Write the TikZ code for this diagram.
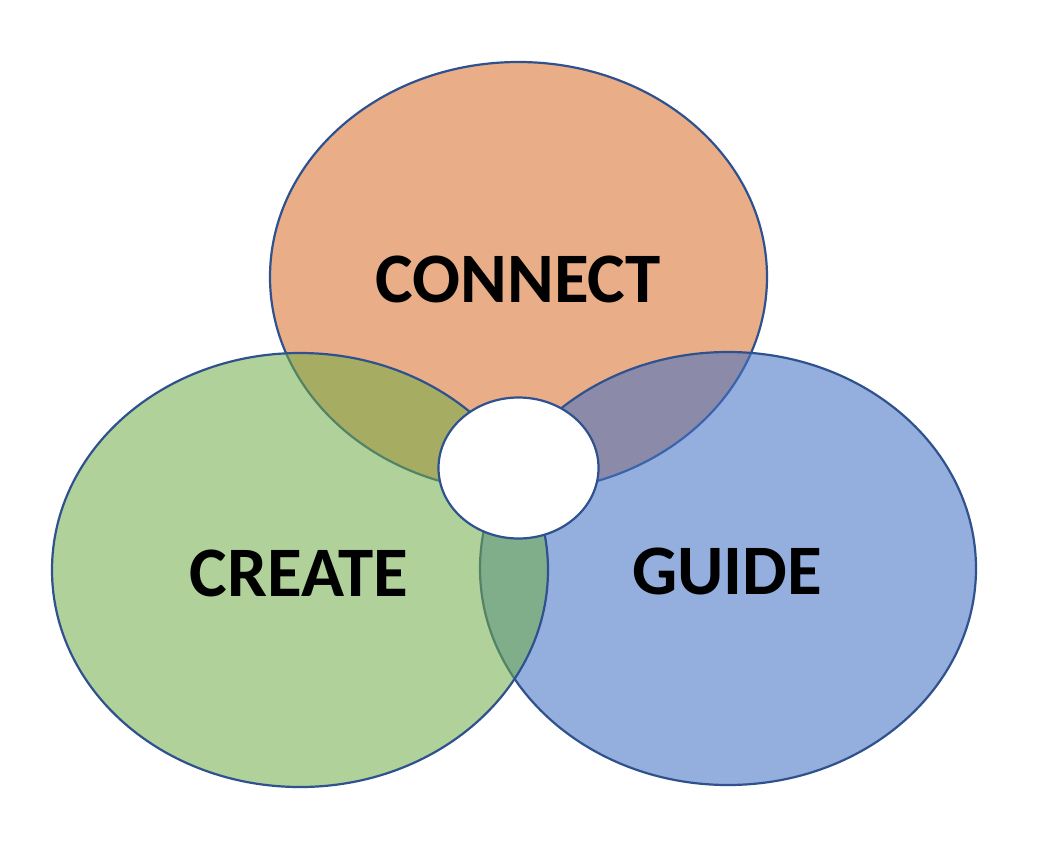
\documentclass[tikz,border=0pt]{standalone}
\usepackage{fontspec}
\setmainfont{Carlito}
\definecolor{cOrange}{HTML}{E9AE87}
\definecolor{cGreen}{HTML}{70AD47}
\definecolor{cBlue}{HTML}{4472C4}
\definecolor{cLine}{HTML}{2F528F}
\begin{document}
\begin{tikzpicture}[x=1pt,y=-1pt,
  ring/.style={draw=cLine,line width=2.2pt},
  lbl/.style={font=\fontsize{71}{80}\selectfont\bfseries,text=black,inner sep=0pt}]
\useasboundingbox (0,0) rectangle (1038,852);
\fill[white] (0,0) rectangle (1038,852);
\path[ring,fill=cOrange] (518.5,277) ellipse [x radius=248.5, y radius=215];
\path[ring,fill=cBlue,fill opacity=0.57] (728,568.5) ellipse [x radius=248, y radius=216.5];
\path[ring,fill=cGreen,fill opacity=0.55] (300,570) ellipse [x radius=248, y radius=217];
\path[ring,fill=white] (518.5,468) ellipse [x radius=80, y radius=70.5];
\node[lbl] (connect) at (518,279) {CONNECT};
\node[lbl] (create) at (299,573) {CREATE};
\node[lbl] (guide) at (727,571) {GUIDE};
\end{tikzpicture}
\end{document}
